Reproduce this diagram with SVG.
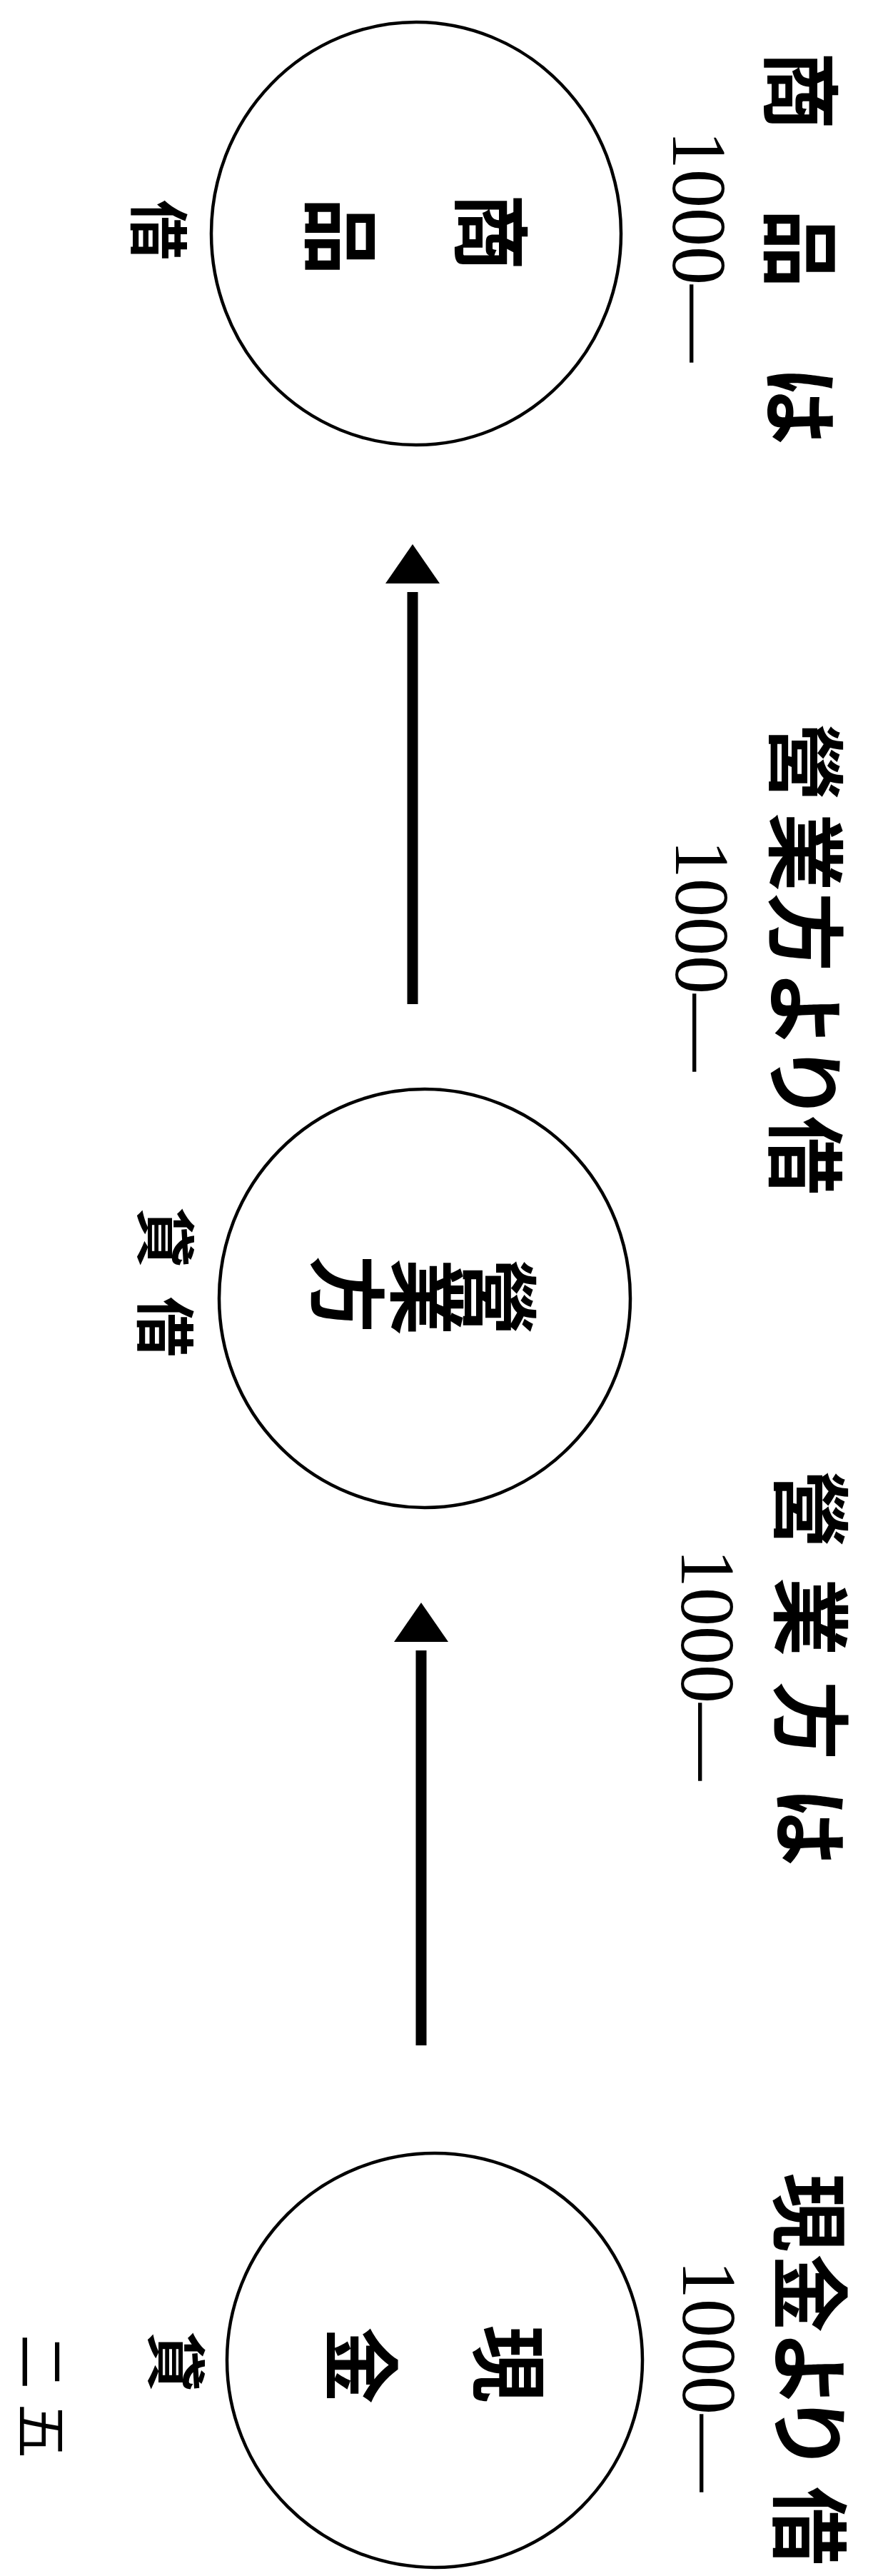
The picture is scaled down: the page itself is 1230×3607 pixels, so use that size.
<svg xmlns="http://www.w3.org/2000/svg" width="1230" height="3607" viewBox="0 0 1230 3607">
<defs>
<style>
.bg{fill:#ffffff}
.node{fill:none;stroke:#000;stroke-width:4.5}
.jp{font-family:"Noto Sans CJK JP","Noto Sans CJK SC",sans-serif;font-weight:700;fill:#000;text-anchor:middle;dominant-baseline:central}
.lg{font-size:110px}
.md{font-size:108px}
.sm{font-size:84px}
.pg{font-size:76px;font-weight:400}
.num{font-family:"Liberation Serif",serif;font-size:108px;fill:#000}
.shaft{stroke:#000;stroke-width:15;fill:none;marker-end:url(#ah)}
</style>
<marker id="ah" markerUnits="userSpaceOnUse" markerWidth="90" markerHeight="90" viewBox="0 -45 90 90" refX="0" refY="0" orient="auto" overflow="visible">
<path d="M12,-38 L67,0 L12,38 Z" fill="#000"/>
</marker>
</defs>
<rect class="bg" x="0" y="0" width="1230" height="3607"/>

<g id="node-shohin">
<ellipse class="node" cx="583" cy="327" rx="287" ry="296"/>
<text class="jp md" transform="rotate(90)" x="325 331" y="-694 -484">商品</text>
<text class="jp sm" transform="rotate(90)" x="322" y="-227">借</text>
<text class="jp lg" transform="rotate(90)" x="127 348 568" y="-1128">商品は</text>
<text class="num" transform="rotate(90)" x="183" y="-943">1000—</text>
</g>

<g id="node-eigyo">
<ellipse class="node" cx="595" cy="1818" rx="288" ry="293"/>
<text class="jp md" transform="rotate(90)" x="1816 1816 1812" y="-706 -604 -493">營業方</text>
<text class="jp sm" transform="rotate(90)" x="1733 1858" y="-236">貸借</text>
</g>

<g id="label-eigyo-yori">
<text class="jp lg" transform="rotate(90)" x="1067 1193 1305 1414 1516 1618" y="-1135">營業方より借</text>
<text class="num" transform="rotate(90)" x="1176" y="-947">1000—</text>
</g>

<g id="label-eigyo-wa">
<text class="jp lg" transform="rotate(90)" x="2113 2264 2409 2558" y="-1142">營業方は</text>
<text class="num" transform="rotate(90)" x="2169" y="-955">1000—</text>
</g>

<g id="node-genkin">
<ellipse class="node" cx="609" cy="3305" rx="291" ry="290"/>
<text class="jp md" transform="rotate(90)" x="3310 3312" y="-720 -512">現金</text>
<text class="jp sm" transform="rotate(90)" x="3307" y="-251">貸</text>
<text class="jp lg" transform="rotate(90)" x="3098 3211 3318 3407 3537" y="-1141">現金より借</text>
<text class="num" transform="rotate(90)" x="3165" y="-957">1000—</text>
</g>

<g id="connectors">
<line class="shaft" x1="578" y1="1406" x2="578" y2="829"/>
<line class="shaft" x1="590" y1="2864" x2="590" y2="2311"/>
</g>

<g id="page-number">
<text class="jp pg" transform="rotate(90)" x="3307 3404" y="-63">二五</text>
</g>
</svg>
